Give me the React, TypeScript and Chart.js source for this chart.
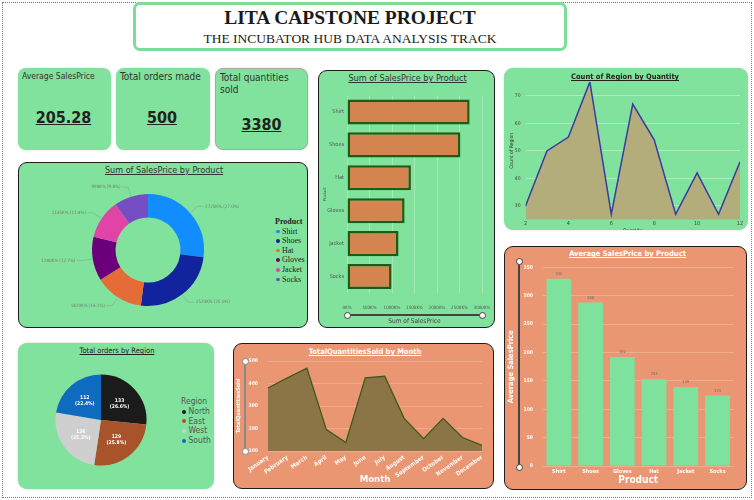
import React, { useEffect, useRef } from "react";
import { Chart, registerables } from "chart.js";
Chart.register(...registerables);

// ---------- DATA ----------
const products = ["Shirt", "Shoes", "Hat", "Gloves", "Jacket", "Socks"];
const productSalesSumK = [2725, 2520, 1420, 1280, 1145, 990];
const productColors = ["#118dff", "#12239e", "#e66c37", "#6b007b", "#e044a7", "#744ec2"];
const salesTicksK = [0, 500, 1000, 1500, 2000, 2500, 3000];

const quantities = [2, 3, 4, 5, 6, 7, 8, 9, 10, 11, 12];
const regionCounts = [30, 50, 55, 75, 27, 67, 54, 27, 42, 27, 46];
const regionCountTicks = [30, 40, 50, 60, 70];
const quantityTicks = [2, 4, 6, 8, 10, 12];

const avgProducts = ["Shirt", "Shoes", "Gloves", "Hat", "Jacket", "Socks"];
const avgSalesPrice = [330, 288, 192, 153, 139, 124];

const months = ["January", "February", "March", "April", "May", "June", "July", "August", "September", "October", "November", "December"];
const monthQty = [380, 425, 468, 195, 138, 425, 432, 245, 155, 245, 160, 125];

const regions = ["North", "East", "West", "South"];
const regionOrders = [133, 129, 126, 112];
const regionColors = ["#1b1b1b", "#a9532b", "#cfcfcf", "#0f6bc0"];

const kpiLabels = ["Average SalesPrice", "Total orders made", "Total quantities sold"];
const kpiValues = ["205.28", "500", "3380"];

// ---------- STYLE ----------
const GREEN = "#80e29c";
const ORANGE = "#eb9672";
const FONT = "'DejaVu Sans Condensed', 'DejaVu Sans', sans-serif";
const SERIF = "'Liberation Serif', 'Times New Roman', serif";

Chart.defaults.font.family = FONT;

type Cfg = () => any;

// fixes an axis' thickness and removes the label overhang padding so layout.padding is exact
const fitX = (h: number) => (s: any) => {
  s.height = h;
  s.paddingLeft = 0;
  s.paddingRight = 0;
};
const fitY = (w: number) => (s: any) => {
  s.width = w;
  s.paddingTop = 0;
  s.paddingBottom = 0;
};

function ChartCanvas(props: { left: number; top: number; width: number; height: number; config: Cfg }) {
  const ref = useRef<HTMLCanvasElement | null>(null);
  useEffect(() => {
    const c = new Chart(ref.current as HTMLCanvasElement, props.config());
    return () => c.destroy();
  }, []);
  return (
    <canvas
      ref={ref}
      width={props.width}
      height={props.height}
      style={{ position: "absolute", left: props.left, top: props.top, width: props.width, height: props.height }}
    />
  );
}

const donutLabels = {
  id: "donutLabels",
  afterDatasetsDraw(chart: any) {
    const ctx = chart.ctx;
    const meta = chart.getDatasetMeta(0);
    const data = chart.data.datasets[0].data as number[];
    const total = data.reduce((a, b) => a + b, 0);
    ctx.save();
    ctx.font = `4.5px ${FONT}`;
    ctx.fillStyle = "#6f7f70";
    ctx.strokeStyle = "#8a9a8a";
    ctx.lineWidth = 0.5;
    meta.data.forEach((arc: any, i: number) => {
      const mid = (arc.startAngle + arc.endAngle) / 2;
      const r = arc.outerRadius;
      const x0 = arc.x + Math.cos(mid) * (r + 1);
      const y0 = arc.y + Math.sin(mid) * (r + 1);
      const x1 = arc.x + Math.cos(mid) * (r + 10);
      const y1 = arc.y + Math.sin(mid) * (r + 10);
      const right = Math.cos(mid) >= 0;
      const x2 = x1 + (right ? 6 : -6);
      ctx.beginPath();
      ctx.moveTo(x0, y0);
      ctx.lineTo(x1, y1);
      ctx.lineTo(x2, y1);
      ctx.stroke();
      const txt = `${data[i]}K% (${((data[i] / total) * 100).toFixed(1)}%)`;
      ctx.textAlign = right ? "left" : "right";
      ctx.textBaseline = "middle";
      ctx.fillText(txt, x2 + (right ? 1.5 : -1.5), y1);
    });
    ctx.restore();
  },
};

const pieLabels = {
  id: "pieLabels",
  afterDatasetsDraw(chart: any) {
    const ctx = chart.ctx;
    const meta = chart.getDatasetMeta(0);
    const data = chart.data.datasets[0].data as number[];
    const total = data.reduce((a, b) => a + b, 0);
    ctx.save();
    ctx.font = `bold 5px ${FONT}`;
    ctx.fillStyle = "#ffffff";
    ctx.textAlign = "center";
    ctx.textBaseline = "middle";
    meta.data.forEach((arc: any, i: number) => {
      const mid = (arc.startAngle + arc.endAngle) / 2;
      const r = arc.outerRadius * 0.55;
      const x = arc.x + Math.cos(mid) * r;
      const y = arc.y + Math.sin(mid) * r;
      ctx.fillText(String(data[i]), x, y - 3);
      ctx.fillText(`(${((data[i] / total) * 100).toFixed(1)}%)`, x, y + 3);
    });
    ctx.restore();
  },
};

const barValueLabels = {
  id: "barValueLabels",
  afterDatasetsDraw(chart: any) {
    const ctx = chart.ctx;
    const meta = chart.getDatasetMeta(0);
    const data = chart.data.datasets[0].data as number[];
    ctx.save();
    ctx.font = `4px ${FONT}`;
    ctx.fillStyle = "#6b6b6b";
    ctx.textAlign = "center";
    ctx.textBaseline = "bottom";
    meta.data.forEach((bar: any, i: number) => {
      ctx.fillText(String(data[i]), bar.x, bar.y - 3);
    });
    ctx.restore();
  },
};

const productBarConfig: Cfg = () => ({
  type: "bar",
  data: {
    labels: products,
    datasets: [
      {
        data: productSalesSumK,
        backgroundColor: "#d4844f",
        borderColor: "#1e5b14",
        borderWidth: 2.5,
        borderSkipped: false,
        barPercentage: 0.76,
        categoryPercentage: 1,
      },
    ],
  },
  options: {
    indexAxis: "y",
    responsive: false,
    animation: false,
    layout: { padding: { left: 0, right: 12, top: 7.5, bottom: 0 } },
    plugins: { legend: { display: false }, tooltip: { enabled: false } },
    scales: {
      x: {
        min: 0,
        max: 3000,
        afterBuildTicks: (s: any) => {
          s.ticks = salesTicksK.map((v) => ({ value: v }));
        },
        ticks: { callback: (v: any) => `${v}K%`, font: { size: 4.5 }, color: "#555", padding: 12, maxRotation: 0 },
        grid: { color: "rgba(255,255,255,0.28)", drawTicks: false },
        border: { display: false },
        title: { display: true, text: "Sum of SalesPrice", font: { size: 6.5 }, color: "#444", padding: { top: 0, bottom: 2 } },
        afterFit: fitX(34),
      },
      y: {
        ticks: { font: { size: 5.5 }, color: "#555", padding: 3 },
        grid: { display: false, drawTicks: false },
        border: { display: false },
        title: { display: true, text: "Product", font: { size: 4 }, color: "#555", padding: { top: 5, bottom: 0 } },
        afterFit: fitY(29),
      },
    },
  },
});

const donutConfig: Cfg = () => ({
  type: "doughnut",
  data: {
    labels: products,
    datasets: [{ data: productSalesSumK, backgroundColor: productColors, borderWidth: 0 }],
  },
  options: {
    responsive: false,
    animation: false,
    cutout: "58%",
    layout: { padding: 14 },
    plugins: { legend: { display: false }, tooltip: { enabled: false } },
  },
  plugins: [donutLabels],
});

const pieConfig: Cfg = () => ({
  type: "pie",
  data: {
    labels: regions,
    datasets: [{ data: regionOrders, backgroundColor: regionColors, borderWidth: 0 }],
  },
  options: {
    responsive: false,
    animation: false,
    layout: { padding: 2.5 },
    plugins: { legend: { display: false }, tooltip: { enabled: false } },
  },
  plugins: [pieLabels],
});

const regionAreaConfig: Cfg = () => ({
  type: "line",
  data: {
    datasets: [
      {
        data: quantities.map((q, i) => ({ x: q, y: regionCounts[i] })),
        borderColor: "#3a3aa0",
        borderWidth: 1.5,
        backgroundColor: "#b3ad7b",
        fill: "start",
        pointRadius: 0,
        tension: 0,
      },
    ],
  },
  options: {
    responsive: false,
    animation: false,
    layout: { padding: { top: 2, right: 8, left: 0, bottom: 0 } },
    plugins: { legend: { display: false }, tooltip: { enabled: false } },
    scales: {
      x: {
        type: "linear",
        min: 2,
        max: 12,
        afterBuildTicks: (s: any) => {
          s.ticks = quantityTicks.map((v) => ({ value: v }));
        },
        ticks: { font: { size: 5.5 }, color: "#444", padding: 1, maxRotation: 0 },
        grid: { display: false, drawTicks: false },
        border: { display: false },
        title: { display: true, text: "Quantity", font: { size: 5 }, color: "#333", padding: { top: 0, bottom: 2 } },
        afterFit: fitX(16.25),
      },
      y: {
        min: 25,
        max: 75,
        afterBuildTicks: (s: any) => {
          s.ticks = regionCountTicks.map((v) => ({ value: v }));
        },
        ticks: { font: { size: 5 }, color: "#444", padding: 5 },
        grid: { color: "rgba(255,255,255,0.35)", drawTicks: false },
        border: { display: false },
        title: { display: true, text: "Count of Region", font: { size: 5 }, color: "#333", padding: { top: 5, bottom: 0 } },
        afterFit: fitY(21.5),
      },
    },
  },
});

const avgBarConfig: Cfg = () => ({
  type: "bar",
  data: {
    labels: avgProducts,
    datasets: [{ data: avgSalesPrice, backgroundColor: "#7ee29c", barPercentage: 0.78, categoryPercentage: 1 }],
  },
  options: {
    responsive: false,
    animation: false,
    layout: { padding: { top: 9.3, right: 13.6, left: 0, bottom: 0 } },
    plugins: { legend: { display: false }, tooltip: { enabled: false } },
    scales: {
      x: {
        ticks: { font: { size: 5.5, weight: "bold" }, color: "#ffffff", padding: 2, maxRotation: 0 },
        grid: { display: false, drawTicks: false },
        border: { display: false },
        title: { display: true, text: "Product", font: { size: 10, weight: "bold" }, color: "#ffffff", padding: { top: 0, bottom: 4 } },
        afterFit: fitX(24),
      },
      y: {
        min: 0,
        max: 350,
        ticks: { stepSize: 50, font: { size: 5, weight: "bold" }, color: "#ffffff", padding: 10 },
        grid: { color: "rgba(255,255,255,0.22)", drawTicks: false },
        border: { display: false },
        title: { display: true, text: "Average SalesPrice", font: { size: 7.5, weight: "bold" }, color: "#ffffff", padding: { top: 3, bottom: 0 } },
        afterFit: fitY(39),
      },
    },
  },
  plugins: [barValueLabels],
});

const monthConfig: Cfg = () => ({
  type: "line",
  data: {
    labels: months,
    datasets: [
      {
        data: monthQty,
        borderColor: "#3c5a1c",
        borderWidth: 1.3,
        backgroundColor: "#8b7446",
        fill: "start",
        pointRadius: 0,
        tension: 0,
      },
    ],
  },
  options: {
    responsive: false,
    animation: false,
    layout: { padding: { top: 5, right: 12, left: 0, bottom: 0 } },
    plugins: { legend: { display: false }, tooltip: { enabled: false } },
    scales: {
      x: {
        ticks: { font: { size: 6, weight: "bold" }, color: "#ffffff", padding: 3, minRotation: 35, maxRotation: 35, autoSkip: false },
        grid: { display: false, drawTicks: false },
        border: { display: false },
        title: { display: true, text: "Month", font: { size: 9.5, weight: "bold" }, color: "#ffffff", padding: { top: 0, bottom: 3 } },
        afterFit: fitX(37),
      },
      y: {
        min: 100,
        max: 500,
        ticks: { stepSize: 100, font: { size: 5, weight: "bold" }, color: "#ffffff", padding: 10 },
        grid: { color: "rgba(255,255,255,0.2)", drawTicks: false },
        border: { display: false },
        title: { display: true, text: "TotalQuantitiesSold", font: { size: 5.5, weight: "bold" }, color: "#ffffff", padding: { top: 2, bottom: 0 } },
        afterFit: fitY(35),
      },
    },
  },
});

// ---------- LAYOUT HELPERS ----------
function Box(props: { l: number; t: number; w: number; h: number; bg: string; border?: string; radius?: number; shadow?: string; children?: any; clip?: boolean }) {
  return (
    <div
      style={{
        position: "absolute",
        left: props.l,
        top: props.t,
        width: props.w,
        height: props.h,
        boxSizing: "border-box",
        background: props.bg,
        border: props.border || "none",
        borderRadius: props.radius ?? 8,
        boxShadow: props.shadow || "none",
        overflow: props.clip ? "hidden" : "visible",
      }}
    >
      {props.children}
    </div>
  );
}

function Title(props: { cx: number; cy: number; text: string; color: string; size: number; bold?: boolean }) {
  return (
    <div
      style={{
        position: "absolute",
        left: props.cx - 100,
        top: props.cy - props.size * 0.65,
        width: 200,
        textAlign: "center",
        fontFamily: FONT,
        fontSize: props.size,
        fontWeight: props.bold ? "bold" : "normal",
        color: props.color,
        textDecoration: "underline",
        lineHeight: 1.2,
        whiteSpace: "nowrap",
      }}
    >
      {props.text}
    </div>
  );
}

function SliderH(props: { x1: number; x2: number; y: number; color: string }) {
  return (
    <>
      <div style={{ position: "absolute", left: props.x1, top: props.y - 1, width: props.x2 - props.x1, height: 1.6, background: props.color }} />
      {[props.x1, props.x2].map((x, i) => (
        <div key={i} style={{ position: "absolute", left: x - 3, top: props.y - 3, width: 4.5, height: 4.5, borderRadius: 5, background: "#fff", border: `1px solid ${props.color}` }} />
      ))}
    </>
  );
}

function SliderV(props: { y1: number; y2: number; x: number; color: string }) {
  return (
    <>
      <div style={{ position: "absolute", left: props.x - 1, top: props.y1, width: 1.6, height: props.y2 - props.y1, background: props.color }} />
      {[props.y1, props.y2].map((y, i) => (
        <div key={i} style={{ position: "absolute", left: props.x - 3, top: y - 3, width: 4.5, height: 4.5, borderRadius: 5, background: "#fff", border: `1px solid ${props.color}` }} />
      ))}
    </>
  );
}

const DARK_BORDER = "1.5px solid #1d1d1d";

export default function App() {
  const kpiBoxes = [
    { l: 18, w: 93, border: "none" },
    { l: 116, w: 94, border: "none" },
    { l: 215, w: 93, border: "1px solid #a8a8a8" },
  ];
  return (
    <div style={{ position: "absolute", left: 0, top: 0, width: 754, height: 500, background: "#ffffff", overflow: "hidden" }}>
      <div style={{ position: "absolute", left: 2, top: 2, width: 748, height: 494, border: "1px dotted #777" }} />

      {/* header */}
      <Box l={133} t={2} w={434} h={49} bg="#ffffff" border="3px solid #7ddc9a" radius={7}>
        <div style={{ position: "absolute", left: 0, top: 1, width: "100%", textAlign: "center", fontFamily: SERIF, fontWeight: "bold", fontSize: 19.5, color: "#1a1a1a", lineHeight: "24px" }}>
          LITA CAPSTONE PROJECT
        </div>
        <div style={{ position: "absolute", left: 0, top: 25, width: "100%", textAlign: "center", fontFamily: SERIF, fontSize: 13.5, color: "#1a1a1a", lineHeight: "18px" }}>
          THE INCUBATOR HUB DATA ANALYSIS TRACK
        </div>
      </Box>

      {/* KPI cards */}
      {kpiBoxes.map((b, i) => (
        <Box key={i} l={b.l} t={68} w={b.w} h={82} bg={GREEN} border={b.border} radius={8} shadow="0 0 2px rgba(0,0,0,0.15)">
          <div style={{ position: "absolute", left: 4, top: 3, width: b.w - 8, fontFamily: FONT, fontSize: i === 0 ? 8.5 : 10, color: "#333", lineHeight: 1.2 }}>{kpiLabels[i]}</div>
          <div style={{ position: "absolute", left: 0, top: i === 2 ? 46 : 40, width: b.w - 2, textAlign: "center", fontFamily: FONT, fontWeight: "bold", fontSize: 16, color: "#222", textDecoration: "underline" }}>
            {kpiValues[i]}
          </div>
        </Box>
      ))}

      {/* donut panel */}
      <Box l={18} t={162} w={290} h={166} bg={GREEN} border={DARK_BORDER} radius={9} />
      <Title cx={164} cy={171} text="Sum of SalesPrice by Product" color="#333" size={9} />
      <ChartCanvas left={28} top={180} width={240} height={140} config={donutConfig} />
      <div style={{ position: "absolute", left: 275, top: 217, fontFamily: SERIF, fontSize: 8, color: "#222", lineHeight: "9.6px" }}>
        <div style={{ fontWeight: "bold" }}>Product</div>
        {products.map((p, i) => (
          <div key={p} style={{ display: "flex", alignItems: "center" }}>
            <span style={{ display: "inline-block", width: 3.5, height: 3.5, borderRadius: 2, background: productColors[i], marginLeft: 1, marginRight: 2.5 }} />
            {p}
          </div>
        ))}
      </div>

      {/* product bar panel */}
      <Box l={318} t={70} w={177} h={258} bg={GREEN} border={DARK_BORDER} radius={9} />
      <Title cx={407.5} cy={79} text="Sum of SalesPrice by Product" color="#333" size={9} />
      <ChartCanvas left={318} top={88} width={176} height={239} config={productBarConfig} />
      <SliderH x1={347} x2={482} y={315} color="#444" />

      {/* region area panel */}
      <Box l={504} t={68} w={244} h={162} bg={GREEN} radius={9} clip shadow="0 0 2px rgba(0,0,0,0.2)">
        <ChartCanvas left={0} top={12} width={244} height={156} config={regionAreaConfig} />
      </Box>
      <Title cx={625} cy={77} text="Count of Region by Quantity" color="#222" size={7.5} bold />

      {/* avg sales price panel */}
      <Box l={504} t={246} w={243} h={244} bg={ORANGE} border={DARK_BORDER} radius={9} />
      <Title cx={627.5} cy={254} text="Average SalesPrice by Product" color="#ffffff" size={7.5} bold />
      <ChartCanvas left={504} top={258} width={243} height={232} config={avgBarConfig} />
      <SliderV x={519} y1={261} y2={467} color="#444" />

      {/* pie panel */}
      <Box l={18} t={343} w={196} h={146} bg={GREEN} radius={9} shadow="0 0 2px rgba(0,0,0,0.25)" />
      <Title cx={117} cy={351} text="Total orders by Region" color="#222" size={7.5} />
      <ChartCanvas left={53} top={372} width={96} height={96} config={pieConfig} />
      <div style={{ position: "absolute", left: 181, top: 397, fontFamily: FONT, fontSize: 8.5, color: "#555", lineHeight: "9.8px" }}>
        <div>Region</div>
        {regions.map((r, i) => (
          <div key={r} style={{ display: "flex", alignItems: "center" }}>
            <span style={{ display: "inline-block", width: 4, height: 4, borderRadius: 2, background: regionColors[i], marginLeft: 1, marginRight: 2.5 }} />
            {r}
          </div>
        ))}
      </div>

      {/* month panel */}
      <Box l={233} t={343} w={261} h={146} bg={ORANGE} border={DARK_BORDER} radius={9} />
      <Title cx={365} cy={352} text="TotalQuantitiesSold by Month" color="#ffffff" size={7.5} bold />
      <ChartCanvas left={233} top={356} width={261} height={132} config={monthConfig} />
      <SliderV x={245} y1={361} y2={451} color="#8a8a8a" />
    </div>
  );
}
